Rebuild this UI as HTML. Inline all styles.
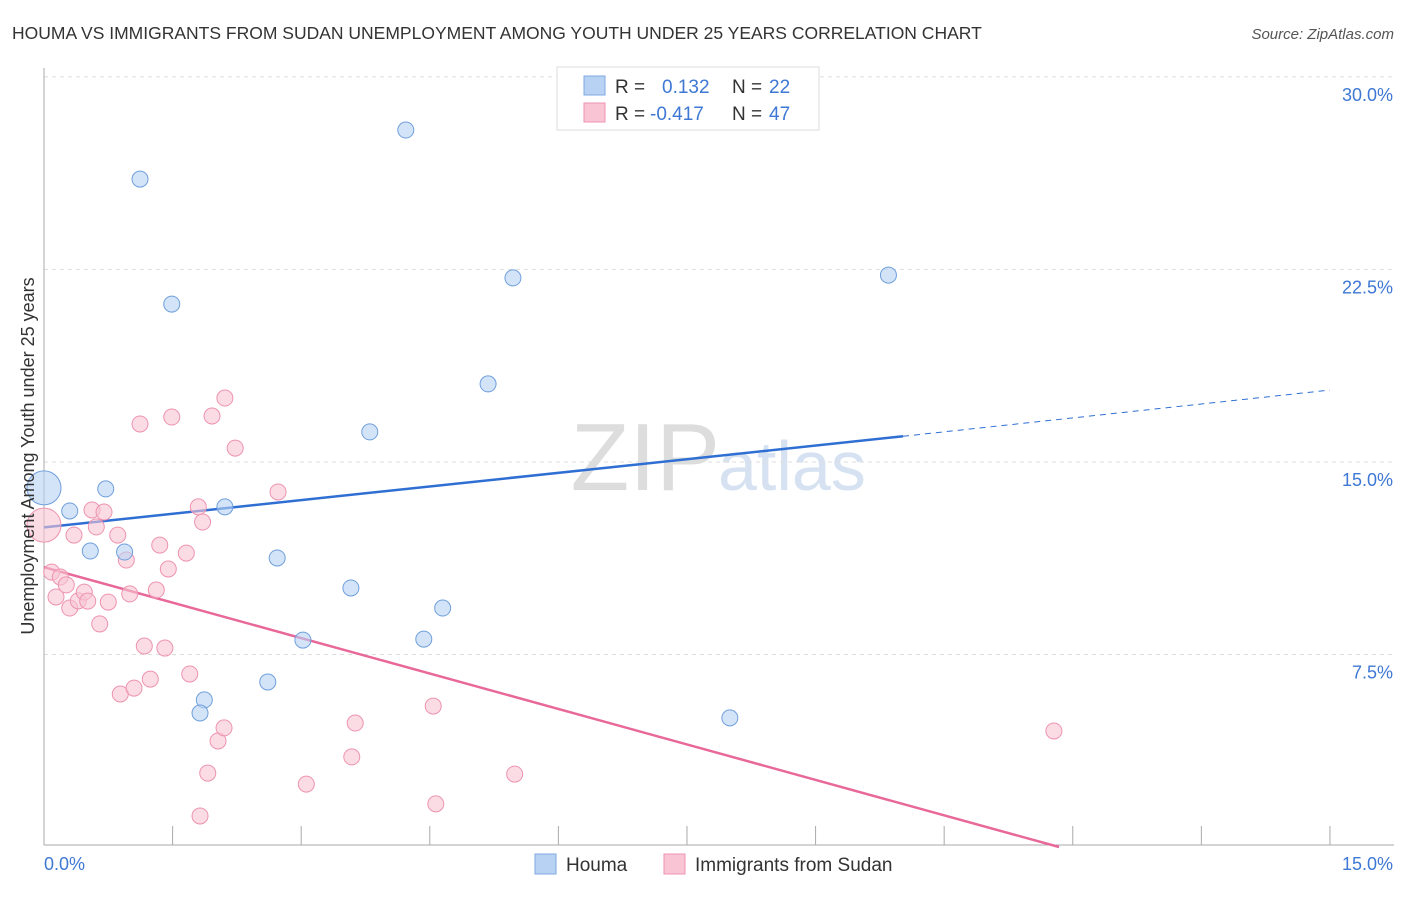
<!DOCTYPE html>
<html><head><meta charset="utf-8"><style>
body{margin:0;background:#fff;font-family:"Liberation Sans",sans-serif;}
svg text{font-family:"Liberation Sans",sans-serif;}
</style></head><body>
<svg id="chart" width="1406" height="892" xmlns="http://www.w3.org/2000/svg">
<text x="12" y="39" font-size="17.5" fill="#333">HOUMA VS IMMIGRANTS FROM SUDAN UNEMPLOYMENT AMONG YOUTH UNDER 25 YEARS CORRELATION CHART</text>
<text x="1394" y="39" font-size="15" fill="#555" font-style="italic" text-anchor="end">Source: ZipAtlas.com</text>
<text x="720" y="490" font-size="96" fill="#ddd" text-anchor="end" font-family="Liberation Serif">ZIP</text>
<text x="718" y="490" font-size="70" fill="#d6e2f2">atlas</text>
<g id="grid"></g>
<g id="axes"></g>
<g id="lines"></g>
<g id="points"></g>
<text transform="translate(34,456) rotate(-90)" font-size="18" fill="#333" text-anchor="middle">Unemployment Among Youth under 25 years</text>
<g>
<rect x="557" y="67" width="262" height="63" fill="#fff" stroke="#ddd"/>
<rect x="584" y="76" width="21" height="19" fill="#b8d2f3" stroke="#7fa8e0"/>
<rect x="584" y="103" width="21" height="19" fill="#f9c4d4" stroke="#ee93b0"/>
<text x="615" y="93" font-size="19" fill="#333">R = </text><text x="662" y="93" font-size="19" fill="#3e78d4">0.132</text>
<text x="732" y="93" font-size="19" fill="#333">N = </text><text x="769" y="93" font-size="19" fill="#3e78d4">22</text>
<text x="615" y="120" font-size="19" fill="#333">R = </text><text x="650" y="120" font-size="19" fill="#3e78d4">-0.417</text>
<text x="732" y="120" font-size="19" fill="#333">N = </text><text x="769" y="120" font-size="19" fill="#3e78d4">47</text>
</g>
<g>
<rect x="535" y="854" width="21" height="20" fill="#b8d2f3" stroke="#7fa8e0"/>
<text x="566" y="871" font-size="19" fill="#333">Houma</text>
<rect x="664" y="854" width="21" height="20" fill="#f9c4d4" stroke="#ee93b0"/>
<text x="695" y="871" font-size="19" fill="#333">Immigrants from Sudan</text>
</g>
</svg>
<script>
const yTicks=[7.5,15,22.5,30];
const yTickLabels=["7.5%","15.0%","22.5%","30.0%"];
const xTicks=[0,1.5,3,4.5,6,7.5,9,10.5,12,13.5,15];
const houmaX=[1.12,4.22,1.49,5.47,9.85,5.18,3.80,0,0.72,0.30,2.11,0.54,0.94,2.72,3.58,4.65,3.02,4.43,2.61,1.87,1.82,8.00];
const houmaY=[26.02,27.93,21.15,22.17,22.28,18.04,16.17,13.99,13.95,13.09,13.25,11.53,11.49,11.26,10.09,9.31,8.06,8.10,6.43,5.73,5.22,5.03];
const sudanX=[0,0.09,0.19,0.14,0.26,0.30,0.35,0.40,0.47,0.51,0.56,0.61,0.65,0.70,0.75,0.86,0.96,1.00,1.12,1.17,0.89,1.05,1.24,1.31,1.35,1.41,1.45,1.49,1.66,1.70,1.80,1.85,1.96,2.11,2.23,1.91,1.82,2.03,2.10,2.73,3.06,3.63,3.59,4.54,4.57,5.49,11.78];
const sudanY=[12.54,10.71,10.52,9.74,10.21,9.31,12.15,9.59,9.93,9.58,13.13,12.47,8.69,13.05,9.54,12.15,11.18,9.86,16.48,7.83,5.96,6.19,6.54,10.01,11.76,7.75,10.83,16.75,11.45,6.74,13.25,12.66,16.79,17.49,15.54,2.88,1.21,4.13,4.64,13.83,2.45,4.83,3.51,5.49,1.68,2.84,4.52];
const houmaTrend=[[0,12.45],[10.02,16.0],[15,17.8]];
const sudanTrend=[[0,10.9],[11.84,0]];
const NS="http://www.w3.org/2000/svg";
const X=v=>44+v*85.73, Y=v=>847-v*25.67;
function mk(t,a,p){const e=document.createElementNS(NS,t);for(const k in a)e.setAttribute(k,a[k]);p.appendChild(e);return e;}
const grid=document.getElementById('grid'),axes=document.getElementById('axes'),lines=document.getElementById('lines'),pts=document.getElementById('points');
yTicks.forEach((t,i)=>{
 const l=mk('line',{x1:44,x2:1394,y1:Y(t),y2:Y(t),stroke:'#ddd','stroke-dasharray':'4,4'},grid);
 
 
 const tx=mk('text',{x:1393,y:Y(t)+24,'font-size':18,fill:'#3e78d4','text-anchor':'end'},axes);
 tx.textContent=yTickLabels[i];
 
 
});
const ax=mk('line',{x1:44,x2:44,y1:68,y2:845,stroke:'#aaa'},axes);


const bx=mk('line',{x1:44,x2:1394,y1:845,y2:845,stroke:'#aaa'},axes);


xTicks.forEach(t=>{const l=mk('line',{x1:X(t),x2:X(t),y1:826,y2:845,stroke:'#aaa'},axes);
 
 });
const xl=mk('text',{x:44,y:870,'font-size':18,fill:'#3e78d4'},axes);xl.textContent='0.0%';


const xr=mk('text',{x:1393,y:870,'font-size':18,fill:'#3e78d4','text-anchor':'end'},axes);xr.textContent='15.0%';


function pt(x,y,fill,stroke,name,big){const c=mk('circle',{cx:X(x),cy:Y(y),r:big?17:8,fill:fill,'fill-opacity':0.6,stroke:stroke,'stroke-width':1},pts);
 
 }
sudanX.forEach((x,i)=>pt(x,sudanY[i],'#f9c4d4','#ee93b0','sudan-point',i===0));
houmaX.forEach((x,i)=>pt(x,houmaY[i],'#b8d2f3','#6f9fdc','houma-point',i===7));
const h1=mk('line',{x1:X(houmaTrend[0][0]),y1:Y(houmaTrend[0][1]),x2:X(houmaTrend[1][0]),y2:Y(houmaTrend[1][1]),stroke:'#2f6fd3','stroke-width':2.5},lines);


const h2=mk('line',{x1:X(houmaTrend[1][0]),y1:Y(houmaTrend[1][1]),x2:X(houmaTrend[2][0]),y2:Y(houmaTrend[2][1]),stroke:'#2f6fd3','stroke-width':1,'stroke-dasharray':'6,5'},lines);


const s1=mk('line',{x1:X(sudanTrend[0][0]),y1:Y(sudanTrend[0][1]),x2:X(sudanTrend[1][0]),y2:Y(sudanTrend[1][1]),stroke:'#e8689a','stroke-width':2.5},lines);


</script>
</body></html>
